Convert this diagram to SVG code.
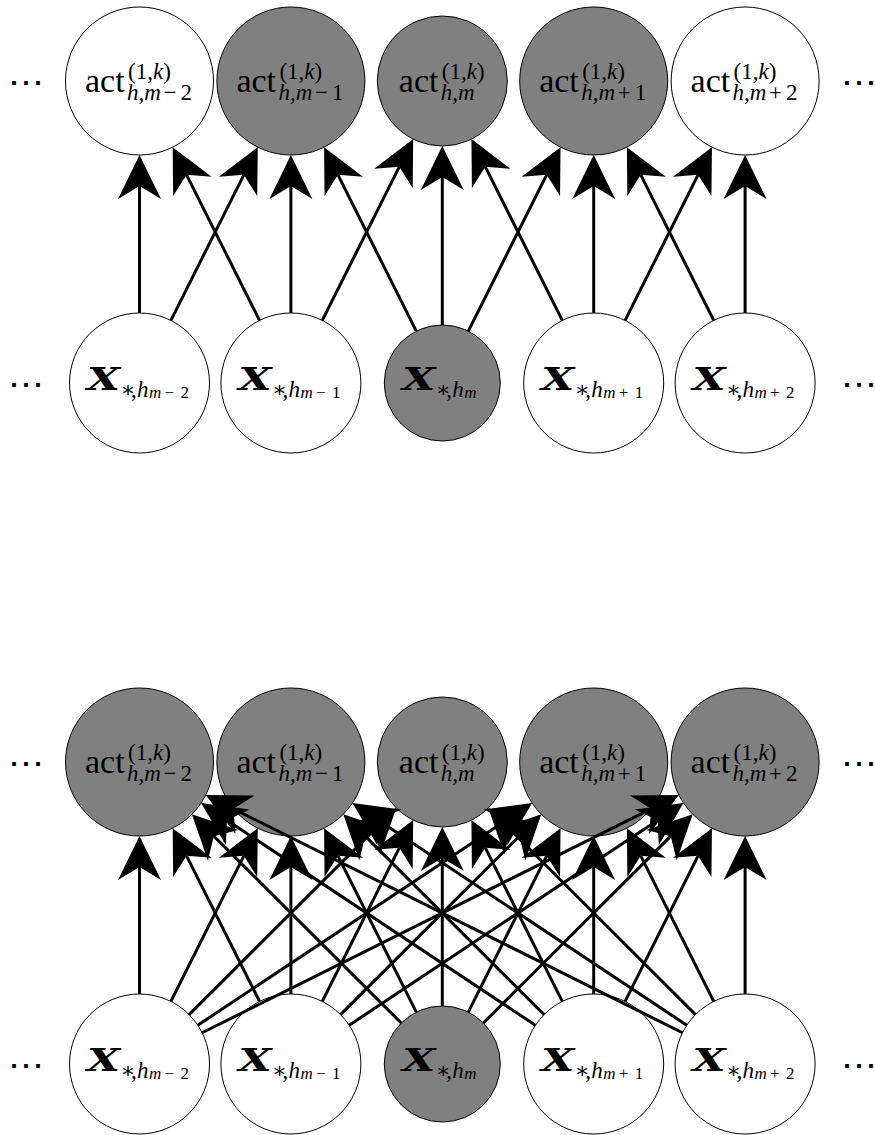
<svg xmlns="http://www.w3.org/2000/svg" width="875" height="1135" viewBox="0 0 875 1135">
<style>
.bg{fill:#fff}
.nw{fill:#fff;stroke:#000;stroke-width:1}
.ng{fill:#808080;stroke:#000;stroke-width:1}
.t{font-family:"Liberation Serif","DejaVu Serif",serif;fill:#000}
.big{font-size:34px}
.xb{font-family:"DejaVu Serif","Liberation Serif",serif;font-size:31px;font-style:italic;font-weight:bold;fill:#000}
.sc{font-size:23px}
.ssc{font-size:17px}
.it{font-style:italic}
.ast{font-family:"DejaVu Serif",serif;font-size:22px}
.dots{font-family:"DejaVu Serif",serif;font-size:36px;fill:#000}
.e{stroke:#000;stroke-width:3;fill:none;marker-end:url(#ah)}
</style>
<defs>
<marker id="ah" markerUnits="userSpaceOnUse" viewBox="0 -22 44 44" markerWidth="44" markerHeight="44" refX="13" refY="0" orient="auto" overflow="visible">
<path d="M44,0 L0,-21.5 L13,0 L0,21.5 Z" fill="#000"/>
</marker>
</defs>
<rect class="bg" x="0" y="0" width="875" height="1135"/>

<!-- ===== TOP DIAGRAM ===== -->
<g id="top-diagram">
<g id="top-dots">
<text class="dots" x="26" y="95" text-anchor="middle">⋯</text>
<text class="dots" x="859" y="95" text-anchor="middle">⋯</text>
<text class="dots" x="26" y="397" text-anchor="middle">⋯</text>
<text class="dots" x="859" y="397" text-anchor="middle">⋯</text>
</g>
<g id="top-act-m-2">
<circle class="nw" cx="139.5" cy="81" r="74"/>
<text class="t big" x="85" y="92">act</text>
<text class="t sc" x="128" y="79">(1,<tspan class="it">k</tspan>)</text>
<text class="t sc" y="99.5"><tspan class="it" x="127">h,m</tspan><tspan x="163.5 180.5">−2</tspan></text>
</g>
<g id="top-act-m-1">
<circle class="ng" cx="290.9" cy="81" r="74"/>
<text class="t big" x="236.4" y="92">act</text>
<text class="t sc" x="279.4" y="79">(1,<tspan class="it">k</tspan>)</text>
<text class="t sc" y="99.5"><tspan class="it" x="278.4">h,m</tspan><tspan x="314.9 331.9">−1</tspan></text>
</g>
<g id="top-act-m">
<circle class="ng" cx="442.3" cy="81" r="65"/>
<text class="t big" x="398.8" y="92">act</text>
<text class="t sc" x="441.8" y="79">(1,<tspan class="it">k</tspan>)</text>
<text class="t sc it" x="440.8" y="99.5">h,m</text>
</g>
<g id="top-act-m+1">
<circle class="ng" cx="593.7" cy="81" r="74"/>
<text class="t big" x="539.2" y="92">act</text>
<text class="t sc" x="582.2" y="79">(1,<tspan class="it">k</tspan>)</text>
<text class="t sc" y="99.5"><tspan class="it" x="581.2">h,m</tspan><tspan x="617.7 634.7">+1</tspan></text>
</g>
<g id="top-act-m+2">
<circle class="nw" cx="745.1" cy="81" r="74"/>
<text class="t big" x="690.6" y="92">act</text>
<text class="t sc" x="733.6" y="79">(1,<tspan class="it">k</tspan>)</text>
<text class="t sc" y="99.5"><tspan class="it" x="732.6">h,m</tspan><tspan x="769.1 786.1">+2</tspan></text>
</g>

<g id="top-x-m-2">
<circle class="nw" cx="139.5" cy="383" r="70"/>
<text class="xb" x="87" y="390" textLength="33" lengthAdjust="spacingAndGlyphs">X</text>
<text class="t sc" y="397"><tspan class="ast" x="120.5">∗</tspan><tspan x="131">,</tspan><tspan class="it" x="137">h</tspan></text>
<text class="t ssc" y="398"><tspan class="it" x="149">m</tspan><tspan x="164.5 180.5">−2</tspan></text>
</g>
<g id="top-x-m-1">
<circle class="nw" cx="290.9" cy="383" r="70"/>
<text class="xb" x="238.4" y="390" textLength="33" lengthAdjust="spacingAndGlyphs">X</text>
<text class="t sc" y="397"><tspan class="ast" x="271.9">∗</tspan><tspan x="282.4">,</tspan><tspan class="it" x="288.4">h</tspan></text>
<text class="t ssc" y="398"><tspan class="it" x="300.4">m</tspan><tspan x="315.9 331.9">−1</tspan></text>
</g>
<g id="top-x-m">
<circle class="ng" cx="442.3" cy="383" r="58"/>
<text class="xb" x="402.3" y="390" textLength="33" lengthAdjust="spacingAndGlyphs">X</text>
<text class="t sc" y="397"><tspan class="ast" x="435.8">∗</tspan><tspan x="446.3">,</tspan><tspan class="it" x="452.3">h</tspan></text>
<text class="t ssc it" x="464.3" y="398">m</text>
</g>
<g id="top-x-m+1">
<circle class="nw" cx="593.7" cy="383" r="70"/>
<text class="xb" x="541.2" y="390" textLength="33" lengthAdjust="spacingAndGlyphs">X</text>
<text class="t sc" y="397"><tspan class="ast" x="574.7">∗</tspan><tspan x="585.2">,</tspan><tspan class="it" x="591.2">h</tspan></text>
<text class="t ssc" y="398"><tspan class="it" x="603.2">m</tspan><tspan x="618.7 634.7">+1</tspan></text>
</g>
<g id="top-x-m+2">
<circle class="nw" cx="745.1" cy="383" r="70"/>
<text class="xb" x="692.6" y="390" textLength="33" lengthAdjust="spacingAndGlyphs">X</text>
<text class="t sc" y="397"><tspan class="ast" x="726.1">∗</tspan><tspan x="736.6">,</tspan><tspan class="it" x="742.6">h</tspan></text>
<text class="t ssc" y="398"><tspan class="it" x="754.6">m</tspan><tspan x="770.1 786.1">+2</tspan></text>
</g>

<g id="top-connectors">
<line class="e" x1="139.5" y1="313" x2="139.5" y2="186"/>
<line class="e" x1="290.9" y1="313" x2="290.9" y2="186"/>
<line class="e" x1="442.3" y1="325" x2="442.3" y2="177"/>
<line class="e" x1="593.7" y1="313" x2="593.7" y2="186"/>
<line class="e" x1="745.1" y1="313" x2="745.1" y2="186"/>
<line class="e" x1="170.87" y1="320.43" x2="243.84" y2="174.86"/>
<line class="e" x1="259.53" y1="320.43" x2="186.56" y2="174.86"/>
<line class="e" x1="322.27" y1="320.43" x2="399.28" y2="166.81"/>
<line class="e" x1="416.31" y1="331.15" x2="337.96" y2="174.86"/>
<line class="e" x1="468.29" y1="331.15" x2="546.64" y2="174.86"/>
<line class="e" x1="562.33" y1="320.43" x2="485.32" y2="166.81"/>
<line class="e" x1="625.07" y1="320.43" x2="698.04" y2="174.86"/>
<line class="e" x1="713.73" y1="320.43" x2="640.76" y2="174.86"/>
</g>
</g>

<!-- ===== BOTTOM DIAGRAM ===== -->
<g id="bottom-diagram">
<g id="bottom-dots">
<text class="dots" x="26" y="776" text-anchor="middle">⋯</text>
<text class="dots" x="859" y="776" text-anchor="middle">⋯</text>
<text class="dots" x="26" y="1078" text-anchor="middle">⋯</text>
<text class="dots" x="859" y="1078" text-anchor="middle">⋯</text>
</g>
<g id="bot-act-m-2">
<circle class="ng" cx="139.5" cy="762" r="74"/>
<text class="t big" x="85" y="773">act</text>
<text class="t sc" x="128" y="760">(1,<tspan class="it">k</tspan>)</text>
<text class="t sc" y="780.5"><tspan class="it" x="127">h,m</tspan><tspan x="163.5 180.5">−2</tspan></text>
</g>
<g id="bot-act-m-1">
<circle class="ng" cx="290.9" cy="762" r="74"/>
<text class="t big" x="236.4" y="773">act</text>
<text class="t sc" x="279.4" y="760">(1,<tspan class="it">k</tspan>)</text>
<text class="t sc" y="780.5"><tspan class="it" x="278.4">h,m</tspan><tspan x="314.9 331.9">−1</tspan></text>
</g>
<g id="bot-act-m">
<circle class="ng" cx="442.3" cy="762" r="65"/>
<text class="t big" x="398.8" y="773">act</text>
<text class="t sc" x="441.8" y="760">(1,<tspan class="it">k</tspan>)</text>
<text class="t sc it" x="440.8" y="780.5">h,m</text>
</g>
<g id="bot-act-m+1">
<circle class="ng" cx="593.7" cy="762" r="74"/>
<text class="t big" x="539.2" y="773">act</text>
<text class="t sc" x="582.2" y="760">(1,<tspan class="it">k</tspan>)</text>
<text class="t sc" y="780.5"><tspan class="it" x="581.2">h,m</tspan><tspan x="617.7 634.7">+1</tspan></text>
</g>
<g id="bot-act-m+2">
<circle class="ng" cx="745.1" cy="762" r="74"/>
<text class="t big" x="690.6" y="773">act</text>
<text class="t sc" x="733.6" y="760">(1,<tspan class="it">k</tspan>)</text>
<text class="t sc" y="780.5"><tspan class="it" x="732.6">h,m</tspan><tspan x="769.1 786.1">+2</tspan></text>
</g>

<g id="bot-x-m-2">
<circle class="nw" cx="139.5" cy="1064" r="70"/>
<text class="xb" x="87" y="1071" textLength="33" lengthAdjust="spacingAndGlyphs">X</text>
<text class="t sc" y="1078"><tspan class="ast" x="120.5">∗</tspan><tspan x="131">,</tspan><tspan class="it" x="137">h</tspan></text>
<text class="t ssc" y="1079"><tspan class="it" x="149">m</tspan><tspan x="164.5 180.5">−2</tspan></text>
</g>
<g id="bot-x-m-1">
<circle class="nw" cx="290.9" cy="1064" r="70"/>
<text class="xb" x="238.4" y="1071" textLength="33" lengthAdjust="spacingAndGlyphs">X</text>
<text class="t sc" y="1078"><tspan class="ast" x="271.9">∗</tspan><tspan x="282.4">,</tspan><tspan class="it" x="288.4">h</tspan></text>
<text class="t ssc" y="1079"><tspan class="it" x="300.4">m</tspan><tspan x="315.9 331.9">−1</tspan></text>
</g>
<g id="bot-x-m">
<circle class="ng" cx="442.3" cy="1064" r="58"/>
<text class="xb" x="402.3" y="1071" textLength="33" lengthAdjust="spacingAndGlyphs">X</text>
<text class="t sc" y="1078"><tspan class="ast" x="435.8">∗</tspan><tspan x="446.3">,</tspan><tspan class="it" x="452.3">h</tspan></text>
<text class="t ssc it" x="464.3" y="1079">m</text>
</g>
<g id="bot-x-m+1">
<circle class="nw" cx="593.7" cy="1064" r="70"/>
<text class="xb" x="541.2" y="1071" textLength="33" lengthAdjust="spacingAndGlyphs">X</text>
<text class="t sc" y="1078"><tspan class="ast" x="574.7">∗</tspan><tspan x="585.2">,</tspan><tspan class="it" x="591.2">h</tspan></text>
<text class="t ssc" y="1079"><tspan class="it" x="603.2">m</tspan><tspan x="618.7 634.7">+1</tspan></text>
</g>
<g id="bot-x-m+2">
<circle class="nw" cx="745.1" cy="1064" r="70"/>
<text class="xb" x="692.6" y="1071" textLength="33" lengthAdjust="spacingAndGlyphs">X</text>
<text class="t sc" y="1078"><tspan class="ast" x="726.1">∗</tspan><tspan x="736.6">,</tspan><tspan class="it" x="742.6">h</tspan></text>
<text class="t ssc" y="1079"><tspan class="it" x="754.6">m</tspan><tspan x="770.1 786.1">+2</tspan></text>
</g>

<g id="bottom-connectors">
<line class="e" x1="139.5" y1="994" x2="139.5" y2="867"/>
<line class="e" x1="170.87" y1="1001.43" x2="243.84" y2="855.86"/>
<line class="e" x1="189.06" y1="1014.57" x2="374.33" y2="829.79"/>
<line class="e" x1="197.79" y1="1025.24" x2="506.27" y2="820.13"/>
<line class="e" x1="202.14" y1="1032.76" x2="651.14" y2="808.87"/>
<line class="e" x1="259.53" y1="1001.43" x2="186.56" y2="855.86"/>
<line class="e" x1="290.9" y1="994" x2="290.9" y2="867"/>
<line class="e" x1="322.27" y1="1001.43" x2="399.28" y2="847.81"/>
<line class="e" x1="340.46" y1="1014.57" x2="519.36" y2="836.15"/>
<line class="e" x1="349.19" y1="1025.24" x2="657.67" y2="820.13"/>
<line class="e" x1="401.24" y1="1023.04" x2="213.84" y2="836.15"/>
<line class="e" x1="416.31" y1="1012.15" x2="337.96" y2="855.86"/>
<line class="e" x1="442.3" y1="1006" x2="442.3" y2="858"/>
<line class="e" x1="468.29" y1="1012.15" x2="546.64" y2="855.86"/>
<line class="e" x1="483.36" y1="1023.04" x2="670.76" y2="836.15"/>
<line class="e" x1="535.41" y1="1025.24" x2="226.93" y2="820.13"/>
<line class="e" x1="544.14" y1="1014.57" x2="365.24" y2="836.15"/>
<line class="e" x1="562.33" y1="1001.43" x2="485.32" y2="847.81"/>
<line class="e" x1="593.7" y1="994" x2="593.7" y2="867"/>
<line class="e" x1="625.07" y1="1001.43" x2="698.04" y2="855.86"/>
<line class="e" x1="682.46" y1="1032.76" x2="233.46" y2="808.87"/>
<line class="e" x1="686.81" y1="1025.24" x2="378.33" y2="820.13"/>
<line class="e" x1="695.54" y1="1014.57" x2="510.27" y2="829.79"/>
<line class="e" x1="713.73" y1="1001.43" x2="640.76" y2="855.86"/>
<line class="e" x1="745.1" y1="994" x2="745.1" y2="867"/>
</g>
</g>
</svg>
